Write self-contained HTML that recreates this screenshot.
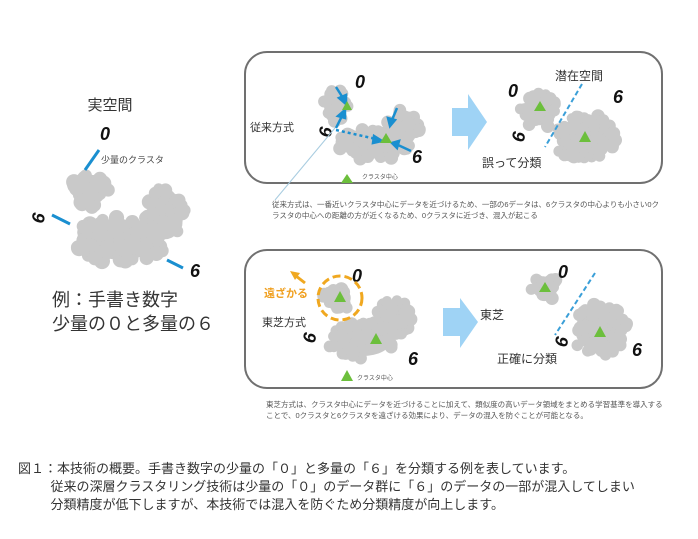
<!DOCTYPE html>
<html><head><meta charset="utf-8"><style>
body{margin:0;background:#fff;width:698px;height:539px;overflow:hidden;font-family:"Liberation Sans","Noto Sans CJK JP",sans-serif}
svg{position:absolute;left:0;top:0}
text{font-family:"Liberation Sans","Noto Sans CJK JP",sans-serif}
.cap{position:absolute;left:18px;top:460px;font-size:13px;line-height:18px;color:#333;white-space:nowrap}
.note{position:absolute;font-size:7.5px;line-height:11px;color:#555}
</style></head><body>
<svg id="s" width="698" height="539" xmlns="http://www.w3.org/2000/svg">
<g id="cl" fill="#c9c9c9"></g>
<rect x="245" y="52" width="417" height="131" rx="22" fill="none" stroke="#707070" stroke-width="2"/>
<rect x="245" y="250" width="417" height="138" rx="22" fill="none" stroke="#707070" stroke-width="2"/>
<text x="110" y="110" font-size="15" text-anchor="middle" fill="#333">実空間</text>
<text x="101" y="163" font-size="9" fill="#444">少量のクラスタ</text>
<text x="52" y="306" font-size="18" fill="#333">例：手書き数字</text>
<text x="52" y="330" font-size="18" fill="#333">少量の０と多量の６</text>
<g stroke="#1a8fd0" stroke-width="3">
<line x1="99" y1="150" x2="85" y2="170"/><line x1="52" y1="215" x2="70" y2="224"/><line x1="167" y1="260" x2="183" y2="268"/></g>
<g font-size="18" font-weight="bold" font-style="italic" fill="#111" font-family="Liberation Serif">
<text x="100" y="140">0</text><text x="190" y="277">6</text><text x="30" y="222" transform="rotate(-80 38 215)">6</text>
<text x="355" y="88">0</text><text x="412" y="163">6</text><text x="318" y="137" transform="rotate(-80 325 130)">6</text>
<text x="508" y="97">0</text><text x="613" y="103">6</text><text x="512" y="141" transform="rotate(-80 519 135)">6</text>
<text x="352" y="282">0</text><text x="408" y="365">6</text><text x="303" y="342" transform="rotate(-80 310 336)">6</text>
<text x="558" y="278">0</text><text x="632" y="356">6</text><text x="555" y="346" transform="rotate(-80 562 340)">6</text>
</g>
<text x="250" y="131" font-size="11" fill="#333">従来方式</text>
<text x="555" y="80" font-size="12" fill="#333">潜在空間</text>
<text x="482" y="167" font-size="12" fill="#333">誤って分類</text>
<text x="262" y="326" font-size="11" fill="#333">東芝方式</text>
<text x="480" y="319" font-size="12" fill="#333">東芝</text>
<text x="497" y="363" font-size="12" fill="#333">正確に分類</text>
<text x="264" y="297" font-size="11" font-weight="bold" fill="#f0a020">遠ざかる</text>
<text x="362" y="179" font-size="6" fill="#555">クラスタ中心</text>
<text x="357" y="380" font-size="6" fill="#555">クラスタ中心</text>
<polygon points="452,108 468,108 468,94 487,122 468,150 468,136 452,136" fill="#9fd3f5"/>
<polygon points="443,308 460,308 460,298 478,322 460,348 460,336 443,336" fill="#9fd3f5"/>
<circle cx="340" cy="298" r="22" fill="none" stroke="#f0a820" stroke-width="3" stroke-dasharray="8,4"/>
<line x1="305" y1="283" x2="296" y2="276" stroke="#f0a820" stroke-width="3"/>
<polygon points="290,271 300,273 295,280" fill="#f0a820"/>
<g stroke="#3a9fd8" stroke-width="2" stroke-dasharray="5,3">
<line x1="582" y1="84" x2="545" y2="147"/><line x1="595" y1="273" x2="555" y2="335"/></g>
<line x1="275" y1="200" x2="335" y2="128" stroke="#a8cce0" stroke-width="1"/>
<g stroke="#1a8fd0" stroke-width="2.5" fill="#1a8fd0">
<line x1="336" y1="87" x2="343" y2="98"/><polygon points="346,104 339,98 346,95"/>
<line x1="336" y1="128" x2="342" y2="116"/><polygon points="345,110 338,116 345,118"/>
<line x1="397" y1="108" x2="392" y2="120"/><polygon points="390,126 388,118 395,120"/>
<line x1="411" y1="151" x2="398" y2="145"/><polygon points="392,143 399,141 397,148"/>
<line x1="336" y1="130" x2="376" y2="139" stroke-dasharray="3,3"/><polygon points="382,141 374,136 373,143"/>
</g>
<g fill="#6cbf3c">
<polygon points="347,101 352,110 342,110"/><polygon points="386,133 392,143 380,143"/>
<polygon points="540,101 546,111 534,111"/><polygon points="585,131 591,142 579,142"/>
<polygon points="340,291 346,302 334,302"/><polygon points="376,333 382,344 370,344"/>
<polygon points="545,282 551,292 539,292"/><polygon points="600,326 606,337 594,337"/>
<polygon points="347,174 353,183 341,183"/><polygon points="347,370 353,381 341,381"/>
</g>
</svg>
<div class="note" style="left:272px;top:199px;width:390px">従来方式は、一番近いクラスタ中心にデータを近づけるため、一部の6データは、6クラスタの中心よりも小さい0クラスタの中心への距離の方が近くなるため、0クラスタに近づき、混入が起こる</div>
<div class="note" style="left:266px;top:399px;width:400px">東芝方式は、クラスタ中心にデータを近づけることに加えて、類似度の高いデータ領域をまとめる学習基準を導入することで、0クラスタと6クラスタを遠ざける効果により、データの混入を防ぐことが可能となる。</div>
<div class="cap">図１：本技術の概要。手書き数字の少量の「０」と多量の「６」を分類する例を表しています。<br>&emsp;&emsp;&ensp;従来の深層クラスタリング技術は少量の「０」のデータ群に「６」のデータの一部が混入してしまい<br>&emsp;&emsp;&ensp;分類精度が低下しますが、本技術では混入を防ぐため分類精度が向上します。</div>
<script>
var g=document.getElementById('cl'),N='http://www.w3.org/2000/svg',seed=7;
function rnd(){seed=(seed*16807)%2147483647;return seed/2147483647;}
function blob(cx,cy,rx,ry,r){var e=document.createElementNS(N,'ellipse');e.setAttribute('cx',cx);e.setAttribute('cy',cy);e.setAttribute('rx',rx*0.85);e.setAttribute('ry',ry*0.85);g.appendChild(e);
var n=Math.round(rx*ry/(r*r)*3.5);for(var i=0;i<n;i++){var a=rnd()*6.283,d=Math.sqrt(rnd());var x=cx+Math.cos(a)*d*rx,y=cy+Math.sin(a)*d*ry;var c=document.createElementNS(N,'circle');c.setAttribute('cx',x.toFixed(1));c.setAttribute('cy',y.toFixed(1));c.setAttribute('r',(r*(0.85+rnd()*0.3)).toFixed(1));g.appendChild(c);}}
blob(90,190,19,18,7);blob(120,240,48,23,7);blob(165,218,21,25,7);blob(160,190,6,6,6);
blob(335,105,13,17,6);blob(372,145,36,16,6);blob(403,128,17,21,6);
blob(540,110,20,18,6);blob(585,138,31,25,6);
blob(338,298,15,13,6);blob(362,340,35,19,6);blob(392,318,19,21,6);
blob(545,288,15,12,6);blob(600,330,29,26,6);
</script>
</body></html>
